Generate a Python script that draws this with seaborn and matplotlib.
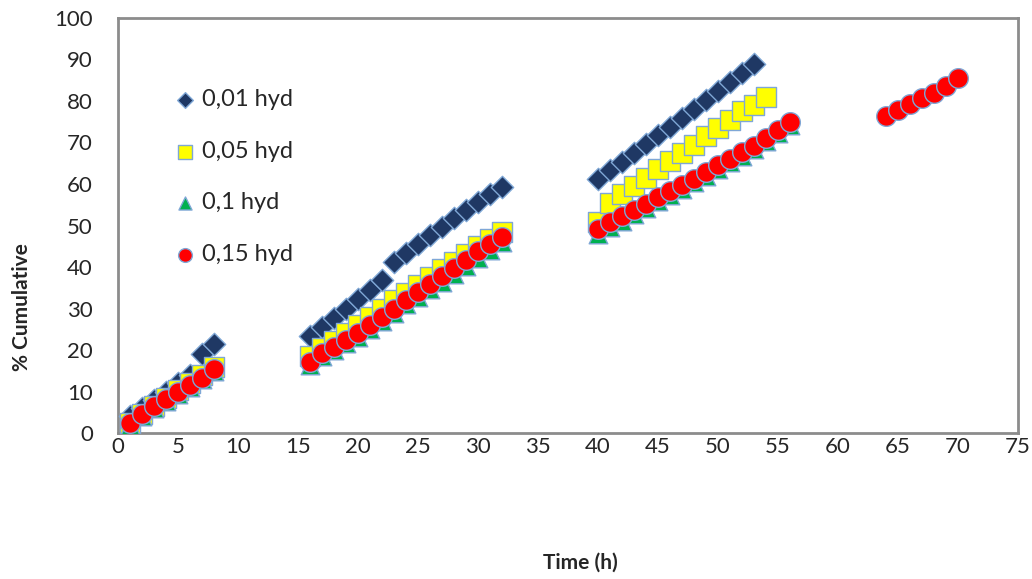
import numpy as np
import pandas as pd
import matplotlib
matplotlib.use("Agg")
import matplotlib.pyplot as plt
import seaborn as sns

# Time points (h) for each series
t_001 = [1, 2, 3, 4, 5, 6, 7, 8,
         16, 17, 18, 19, 20, 21, 22, 23, 24, 25, 26, 27, 28, 29, 30, 31, 32,
         40, 41, 42, 43, 44, 45, 46, 47, 48, 49, 50, 51, 52, 53]
y_001 = [4, 6, 8, 10, 12, 14, 19, 21.5,
         23.5, 25.5, 27.7, 30, 32.3, 34.5, 36.8, 41.2, 43.3, 45.5, 47.6, 49.7, 51.8, 53.8, 55.7, 57.5, 59.3,
         61.3, 63.3, 65.4, 67.5, 69.6, 71.7, 73.8, 76, 78.1, 80.2, 82.3, 84.5, 86.7, 89]

t_005 = [1, 2, 3, 4, 5, 6, 7, 8,
         16, 17, 18, 19, 20, 21, 22, 23, 24, 25, 26, 27, 28, 29, 30, 31, 32,
         40, 41, 42, 43, 44, 45, 46, 47, 48, 49, 50, 51, 52, 53, 54]
y_005 = [2.5, 4.5, 6.5, 8.5, 10.5, 12, 14, 16,
         18.5, 20.5, 22.3, 24, 26, 28, 30, 32, 33.8, 35.7, 37.5, 39.5, 41.3, 43.2, 45, 46.8, 48.5,
         50.8, 55.5, 57.5, 59.5, 61.5, 63.5, 65.5, 67.5, 69.5, 71.5, 73.5, 75.5, 77.5, 79, 81]

t_01 = [1, 2, 3, 4, 5, 6, 7, 8,
        16, 17, 18, 19, 20, 21, 22, 23, 24, 25, 26, 27, 28, 29, 30, 31, 32,
        40, 41, 42, 43, 44, 45, 46, 47, 48, 49, 50, 51, 52, 53, 54, 55, 56]
y_01 = [2, 4, 6, 7.8, 9.5, 11.2, 13, 15,
        16.5, 18.5, 20, 21.6, 23.2, 25, 27, 29, 31, 32.8, 34.6, 36.5, 38.4, 40.3, 42.2, 44, 46,
        48, 49.6, 51.2, 52.8, 54.3, 55.8, 57.3, 58.9, 60.4, 62, 63.6, 65.2, 66.8, 68.4, 70.3, 72.3, 74.3]

t_015 = [1, 2, 3, 4, 5, 6, 7, 8,
         16, 17, 18, 19, 20, 21, 22, 23, 24, 25, 26, 27, 28, 29, 30, 31, 32,
         40, 41, 42, 43, 44, 45, 46, 47, 48, 49, 50, 51, 52, 53, 54, 55, 56,
         64, 65, 66, 67, 68, 69, 70]
y_015 = [2.5, 4.5, 6.5, 8.2, 10, 11.7, 13.3, 15.5,
         17.2, 19.2, 20.8, 22.5, 24, 26, 28, 30, 32, 34, 36, 37.8, 39.8, 41.8, 43.8, 45.5, 47.3,
         49.2, 50.8, 52.3, 53.8, 55.3, 56.8, 58.3, 59.8, 61.3, 62.9, 64.5, 66, 67.6, 69.2, 71, 73, 75,
         76.3, 77.8, 79.2, 80.6, 82, 83.7, 85.6]

labels = ["0,01 hyd", "0,05 hyd", "0,1 hyd", "0,15 hyd"]
xticks = list(range(0, 80, 5))
yticks = list(range(0, 110, 10))

series = [
    (t_001, y_001, labels[0], "D", "#1F3864", 130),
    (t_005, y_005, labels[1], "s", "#FFFF00", 190),
    (t_01, y_01, labels[2], "^", "#00B050", 180),
    (t_015, y_015, labels[3], "o", "#FF0000", 200),
]

sns.set_style("white")
plt.rcParams['font.family'] = ['Lato', 'DejaVu Sans']

fig = plt.figure(figsize=(10.32, 5.79), dpi=100)
ax = fig.add_axes([0.1143, 0.252, 0.8723, 0.717])

for t, y, lab, m, c, s in series:
    df = pd.DataFrame({"Time": t, "Cum": y})
    sns.scatterplot(data=df, x="Time", y="Cum", marker=m, color=c, s=s,
                    edgecolor="#7FA7D6", linewidth=1.0, label=lab, ax=ax, zorder=3)

ax.set_xlim(0, 75)
ax.set_ylim(0, 100)
ax.set_xticks(xticks)
ax.set_yticks(yticks)
ax.tick_params(axis="both", labelsize=16, length=0)
ax.tick_params(axis="x", pad=3)
ax.tick_params(axis="y", pad=18)
for sp in ax.spines.values():
    sp.set_color("#8C8C8C")
    sp.set_linewidth(2)

ax.set_xlabel("")
ax.set_ylabel("")
fig.text(0.562, 0.028, "Time (h)", fontsize=15, fontweight="bold", ha="center", va="center")
fig.text(0.021, 0.47, "% Cumulative", fontsize=15, fontweight="bold", rotation=90,
         ha="center", va="center")

ax.legend(loc="upper left", bbox_to_anchor=(0.025, 0.88), frameon=False, fontsize=17,
          labelspacing=1.3, handletextpad=-0.3, markerscale=0.7)

fig.savefig("out.png", dpi=100)
